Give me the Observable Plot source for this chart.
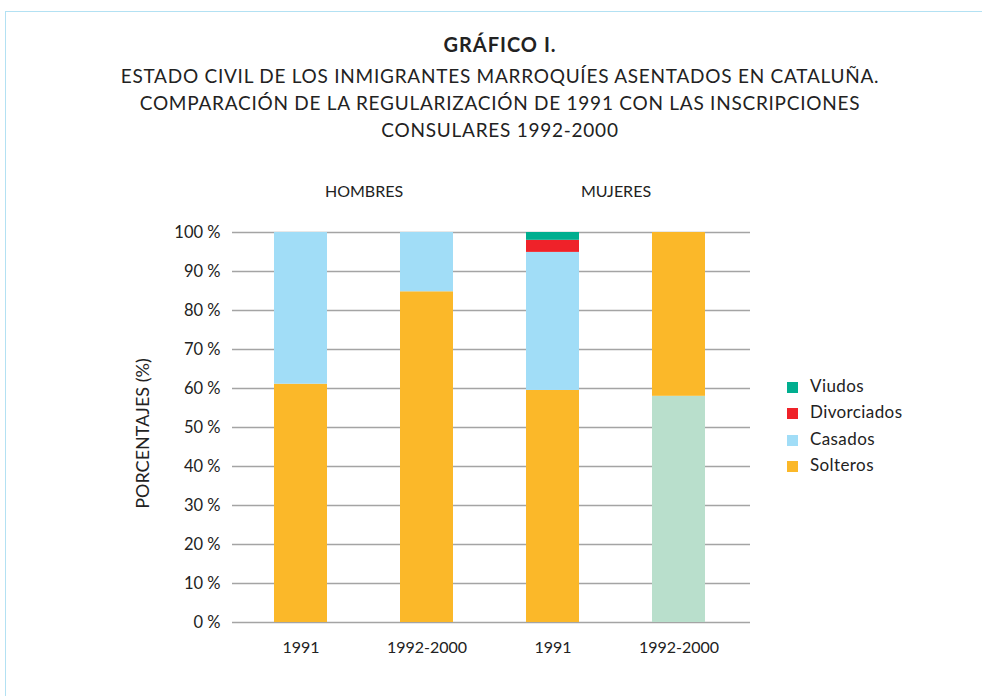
<!DOCTYPE html>
<html><head><meta charset="utf-8">
<script src="https://cdn.jsdelivr.net/npm/d3@7"></script>
<script src="https://cdn.jsdelivr.net/npm/@observablehq/plot@0.6"></script>
<style>
body{margin:0;background:#fff;font-family:Lato,"Open Sans",sans-serif;color:#222;}
#wrap{position:relative;width:982px;height:696px;overflow:hidden;}
#frame{position:absolute;left:5px;top:11px;width:1100px;height:1100px;border:1.5px solid #b3e1f3;}
#title{position:absolute;left:0;top:31px;width:1000px;text-align:center;font-size:19px;line-height:27px;letter-spacing:0.75px;}
#title .t{font-weight:bold;font-size:20px;letter-spacing:1px;margin-bottom:4px;}
#chart{position:absolute;left:0;top:160px;}
#legend{position:absolute;left:787px;top:373px;font-size:17px;line-height:26.4px;letter-spacing:0.4px;}
#legend span.sw{display:inline-block;width:11px;height:11px;margin-right:12px;vertical-align:-1px;}
</style></head>
<body><div id="wrap"><div id="frame"></div>
<div id="title"><div class="t">GRÁFICO I.</div>ESTADO CIVIL DE LOS INMIGRANTES MARROQUÍES ASENTADOS EN CATALUÑA.<br>COMPARACIÓN DE LA REGULARIZACIÓN DE 1991 CON LAS INSCRIPCIONES<br>CONSULARES 1992-2000</div>
<div id="chart"></div><div id="legend"></div></div>
<script>
const groups = ["HOMBRES", "MUJERES"];
const periods = ["1991", "1992-2000"];
const yTicks = [0, 10, 20, 30, 40, 50, 60, 70, 80, 90, 100];
// bars in order: HOMBRES 1991, HOMBRES 1992-2000, MUJERES 1991, MUJERES 1992-2000
const otros = [0, 0, 0, 58.0];        // light green segment (not in legend)
const solteros = [61.1, 84.8, 59.5, 42.0];
const casados = [38.9, 15.2, 35.4, 0];
const divorciados = [0, 0, 3.1, 0];
const viudos = [0, 0, 2.0, 0];
const seriesNames = ["Otros", "Solteros", "Casados", "Divorciados", "Viudos"];
const seriesColors = ["#b9dfcc", "#fbb829", "#a1ddf7", "#ef2229", "#00ae8f"];
const legendNames = ["Viudos", "Divorciados", "Casados", "Solteros"];

const seriesValues = [otros, solteros, casados, divorciados, viudos];
const keys = [];
groups.forEach(g => periods.forEach(p => keys.push(g + "|" + p)));
const rows = [];
keys.forEach((k, i) => seriesNames.forEach((s, j) => rows.push({key: k, serie: s, value: seriesValues[j][i]})));

const W = 982, H = 536;
const chart = Plot.plot({
  width: W, height: H,
  marginLeft: 232, marginRight: 232, marginTop: 72, marginBottom: 74,
  style: {fontFamily: "Lato, 'Open Sans', sans-serif", fontSize: "15px", color: "#222", background: "transparent"},
  x: {domain: keys, range: [237, 742], paddingInner: 0.58, paddingOuter: 0.29, align: 0.5, label: null},
  y: {domain: [0, 100], label: null},
  color: {domain: seriesNames, range: seriesColors},
  marks: [
    Plot.ruleY(yTicks, {stroke: "#a4a4a4", strokeWidth: 1.6}),
    Plot.barY(rows, {x: "key", y: "value", fill: "serie", order: null}),
    Plot.axisY({ticks: yTicks, tickSize: 0, tickPadding: 12, tickFormat: d => d + " %", fontSize: 16.5, label: null}),
    Plot.axisX({tickSize: 0, tickPadding: 19, tickFormat: d => d.split("|")[1], fontSize: 16, label: null}),
    Plot.text(groups, {x: g => g + "|" + periods[0], dx: 63, frameAnchor: "top", dy: -47, text: d => d, fontSize: 16}),
    Plot.text(["PORCENTAJES (%)"], {frameAnchor: "left", textAnchor: "middle", dx: -89, dy: 6, rotate: -90, text: d => d, fontSize: 18})
  ]
});
document.getElementById("chart").appendChild(chart);

const leg = document.getElementById("legend");
legendNames.forEach(n => {
  const d = document.createElement("div");
  d.innerHTML = `<span class="sw" style="background:${seriesColors[seriesNames.indexOf(n)]}"></span>${n}`;
  leg.appendChild(d);
});
</script></body></html>
